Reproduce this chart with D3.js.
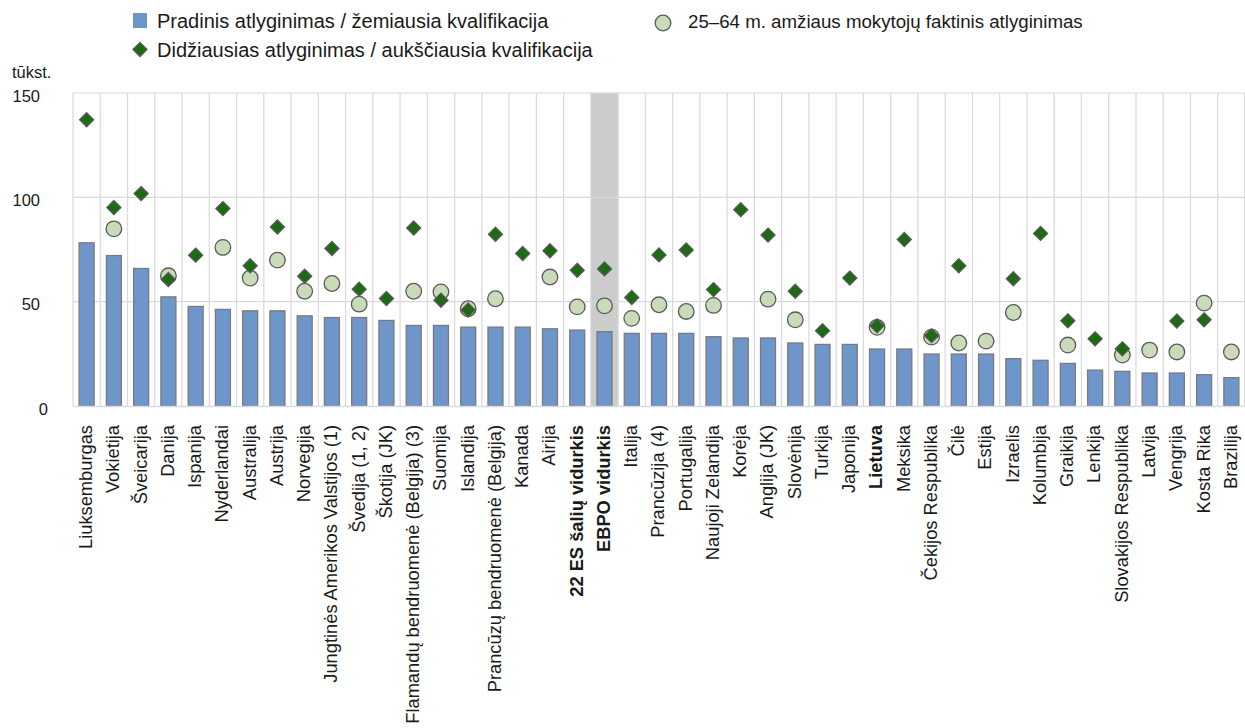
<!DOCTYPE html>
<html><head><meta charset="utf-8">
<script src="https://cdn.jsdelivr.net/npm/d3@7"></script>
<style>body{margin:0;background:#fff;} text{font-family:"Liberation Sans",Arial,sans-serif;fill:#1a1a1a;}</style>
</head><body><svg id="c" width="1245" height="728"></svg>
<script>
const categories = ["Liuksemburgas","Vokietija","Šveicarija","Danija","Ispanija","Nyderlandai","Australija","Austrija","Norvegija","Jungtinės Amerikos Valstijos (1)","Švedija (1, 2)","Škotija (JK)","Flamandų bendruomenė (Belgija) (3)","Suomija","Islandija","Prancūzų bendruomenė (Belgija)","Kanada","Airija","22 ES šalių vidurkis","EBPO vidurkis","Italija","Prancūzija (4)","Portugalija","Naujoji Zelandija","Korėja","Anglija (JK)","Slovėnija","Turkija","Japonija","Lietuva","Meksika","Čekijos Respublika","Čilė","Estija","Izraelis","Kolumbija","Graikija","Lenkija","Slovakijos Respublika","Latvija","Vengrija","Kosta Rika","Brazilija"];
const boldCats = ["22 ES šalių vidurkis","EBPO vidurkis","Lietuva"];
const highlightCat = "EBPO vidurkis";
const startingSalary = [78.2,72.1,65.9,52.3,47.7,46.3,45.6,45.6,43.2,42.4,42.4,41.0,38.6,38.6,37.8,37.8,37.8,37.0,36.4,35.6,34.8,34.8,34.8,33.2,32.6,32.6,30.2,29.5,29.5,27.3,27.3,24.9,24.9,24.9,22.7,21.9,20.4,17.2,16.6,15.8,15.8,15.0,13.6];
const topSalary = [137.2,95.1,101.8,60.6,72.3,94.6,67.2,85.8,62.2,75.5,56.0,51.5,85.3,50.7,46.0,82.3,73.1,74.4,65.0,65.7,52.0,72.4,74.8,55.8,94.1,81.9,55.0,36.1,61.3,38.4,79.8,33.7,67.2,null,61.0,82.7,40.8,32.2,27.4,null,40.7,41.3,null];
const actualSalary = [null,84.9,null,62.4,null,76.0,61.3,69.9,55.0,58.7,48.8,null,55.0,54.7,46.6,51.4,null,61.8,47.5,48.0,42.0,48.5,45.3,48.2,null,51.2,41.3,null,null,37.7,null,33.0,30.2,31.1,44.8,null,29.2,null,24.4,26.8,25.9,49.3,25.9];
const yTicks = [0,50,100,150];
const legendLabels = ["Pradinis atlyginimas / žemiausia kvalifikacija","Didžiausias atlyginimas / aukščiausia kvalifikacija","25–64 m. amžiaus mokytojų faktinis atlyginimas"];
const yUnit = "tūkst.";

const svg = d3.select("#c");
const m = {left:73, right:1245, top:93, bottom:406};
const x = d3.scaleBand().domain(categories).range([m.left,m.right]).paddingInner(0).paddingOuter(0);
const y = d3.scaleLinear().domain([0,150]).range([m.bottom,m.top]);
const bw = 15;

const barColor="#6f96cb", barStroke="#7a7a7a", diaColor="#1c6b12", ptStroke="#5a5a5a", circColor="#c9dbb8";

// highlight band
svg.append("rect").attr("x",x(highlightCat)).attr("y",m.top).attr("width",x.bandwidth()).attr("height",m.bottom-m.top).attr("fill","#cccccc");

// grid horizontal
svg.append("g").selectAll("line").data(yTicks.filter(d=>d>0)).join("line")
 .attr("x1",m.left).attr("x2",m.right).attr("y1",d=>y(d)).attr("y2",d=>y(d)).attr("stroke","#d9d9d9").attr("stroke-width",1.2);
// grid vertical
svg.append("g").selectAll("line").data(categories).join("line")
 .attr("x1",d=>x(d)).attr("x2",d=>x(d)).attr("y1",m.top).attr("y2",m.bottom).attr("stroke","#d9d9d9").attr("stroke-width",1.2);
svg.append("line").attr("x1",m.right-0.5).attr("x2",m.right-0.5).attr("y1",m.top).attr("y2",m.bottom).attr("stroke","#d9d9d9");

// y axis labels
const ya = svg.append("g").attr("transform",`translate(${m.left},0)`).call(d3.axisLeft(y).tickValues(yTicks).tickSize(0).tickPadding(33));
ya.select(".domain").remove();
ya.selectAll("text").attr("font-size","16.5px").attr("font-family","Liberation Sans, Arial, sans-serif").attr("fill","#1a1a1a")
  .attr("dy","0.5em").attr("x",d=>d===0?-25:-33);
svg.append("text").attr("x",12).attr("y",78).attr("font-size","16.5px").text(yUnit);

// bars
svg.append("g").selectAll("rect").data(categories).join("rect")
 .attr("x",d=>x(d)+x.bandwidth()/2-bw/2).attr("width",bw)
 .attr("y",(d,i)=>y(startingSalary[i])).attr("height",(d,i)=>y(0)-y(startingSalary[i]))
 .attr("fill",barColor).attr("stroke",barStroke).attr("stroke-width",1.3);

// baseline
svg.append("line").attr("x1",m.left).attr("x2",m.right).attr("y1",m.bottom+0.5).attr("y2",m.bottom+0.5).attr("stroke","#d5dbe8").attr("stroke-width",1.5);

// circles
const cdata = categories.map((c,i)=>({c,v:actualSalary[i]})).filter(d=>d.v!=null);
svg.append("g").selectAll("circle").data(cdata).join("circle")
 .attr("cx",d=>x(d.c)+x.bandwidth()/2).attr("cy",d=>y(d.v)).attr("r",7.8)
 .attr("fill",circColor).attr("stroke",ptStroke).attr("stroke-width",1.3);

// diamonds
const diamond = d3.symbol().type(d3.symbolDiamond2).size(128);
const ddata = categories.map((c,i)=>({c,v:topSalary[i]})).filter(d=>d.v!=null);
svg.append("g").selectAll("path").data(ddata).join("path")
 .attr("transform",d=>`translate(${x(d.c)+x.bandwidth()/2},${y(d.v)})`)
 .attr("d",diamond).attr("fill",diaColor).attr("stroke",ptStroke).attr("stroke-width",1.2);

// x labels
svg.append("g").selectAll("text").data(categories).join("text")
 .attr("transform",d=>`translate(${x(d)+x.bandwidth()/2-1},${m.bottom+19}) rotate(-90)`)
 .attr("text-anchor","end").attr("dy","0.35em").attr("font-size","18.3px")
 .attr("font-weight",d=>boldCats.includes(d)?"bold":"normal").text(d=>d);

// legend
const lg = svg.append("g");
lg.append("rect").attr("x",133).attr("y",13).attr("width",14).attr("height",15).attr("fill",barColor);
lg.append("text").attr("x",157).attr("y",21).attr("dy","0.35em").attr("font-size","20px").text(legendLabels[0]);
lg.append("path").attr("transform","translate(140,49.5)").attr("d",diamond).attr("fill",diaColor).attr("stroke",ptStroke).attr("stroke-width",1.2);
lg.append("text").attr("x",157).attr("y",50).attr("dy","0.35em").attr("font-size","20px").text(legendLabels[1]);
lg.append("circle").attr("cx",663).attr("cy",23).attr("r",7.8).attr("fill",circColor).attr("stroke",ptStroke).attr("stroke-width",1.3);
lg.append("text").attr("x",688).attr("y",21).attr("dy","0.35em").attr("font-size","18.7px").text(legendLabels[2]);
</script></body></html>
